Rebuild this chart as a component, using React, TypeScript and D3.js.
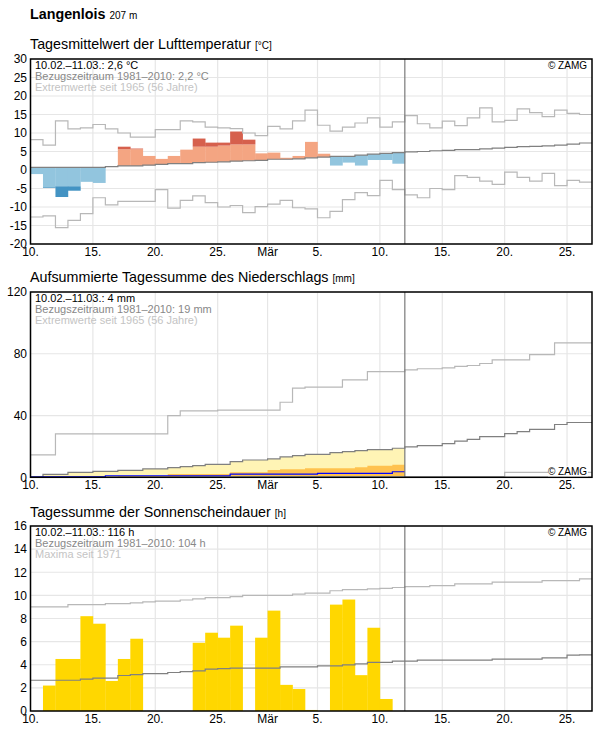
import React from "react";
import * as d3 from "d3";

const W = 596;
const H = 729;
const FONT = "'Liberation Sans', Arial, sans-serif";

// day index 0 = 10 Feb, 45 = 27 Mar; observed period = first 30 days (10.02.–11.03.)
const dayCount = 45;
const obsDays = 30;
const xTickDays = [0, 5, 10, 15, 19, 23, 28, 33, 38, 43];
const xTickLabels = ["10.", "15.", "20.", "25.", "Mär", "5.", "10.", "15.", "20.", "25."];

// Temperature (°C)
const tempObs = [-1.1, -4.8, -7.3, -5.6, -3.2, -3.5, 1.0, 6.3, 5.8, 3.8, 3.0, 3.8, 5.5, 8.5, 7.4, 7.4, 10.4, 8.2, 4.5, 4.7, 3.3, 3.8, 7.6, 4.4, 1.2, 2.0, 1.2, 2.7, 2.7, 1.7];
const tempMean = [0.7, 0.7, 0.7, 0.7, 0.7, 0.7, 0.9, 1.1, 1.1, 1.3, 1.5, 1.7, 1.7, 2.0, 2.1, 2.2, 2.4, 2.5, 2.6, 2.9, 2.9, 3.0, 3.3, 3.5, 3.7, 3.7, 4.0, 4.3, 4.5, 4.7, 4.9, 5.0, 5.2, 5.3, 5.5, 5.5, 5.7, 5.9, 6.1, 6.3, 6.4, 6.5, 6.7, 7.0, 7.3];
const tempUpper = [5.2, 5.2, 5.2, 5.2, 5.3, 5.4, 5.5, 5.6, 5.6, 5.8, 5.9, 6.0, 6.1, 6.3, 6.3, 6.6, 6.9, 6.9, 7.0, 7.1, 7.2, 7.3, 7.8, 7.9, 8.0, 8.2, 8.4, 8.6, 8.8, 9.0];
const tempLower = [-4.6, -4.6, -4.4, -4.4, -4.3, -4.3, -4.2, -4.0, -3.9, -3.8, -3.6, -3.4, -3.3, -3.1, -3.0, -2.8, -2.6, -2.5, -2.3, -2.1, -2.0, -1.8, -1.6, -1.4, -1.3, -1.1, -0.9, -0.7, -0.6, -0.4];
const tempMax = [8.2, 6.7, 13.3, 11.1, 11.4, 12.3, 11.1, 10.0, 8.9, 8.9, 10.9, 10.9, 13.3, 13.0, 11.6, 11.4, 11.2, 10.0, 9.3, 11.8, 11.1, 13.3, 16.2, 12.1, 10.5, 11.6, 12.7, 14.1, 11.6, 13.0, 14.7, 12.5, 11.4, 13.2, 12.0, 14.1, 16.8, 13.0, 13.4, 16.5, 15.5, 14.4, 16.2, 15.3, 15.0];
const tempMin = [-12.7, -12.4, -15.6, -13.6, -11.8, -7.5, -9.4, -8.5, -8.5, -8.5, -5.3, -10.3, -8.2, -7.0, -8.8, -10.0, -9.6, -11.5, -9.9, -9.2, -8.2, -10.2, -10.5, -12.9, -11.2, -8.0, -6.1, -6.9, -2.8, -5.3, -6.7, -7.5, -5.0, -5.3, -1.5, -2.0, -3.0, -3.9, -0.6, -2.0, -3.0, -0.9, -4.2, -2.8, -3.3];

// Precipitation, cumulative (mm)
const precipObs = [0.1, 0.3, 0.3, 0.3, 0.3, 0.3, 1.0, 1.0, 1.0, 1.0, 1.0, 1.0, 1.0, 1.0, 1.0, 1.0, 2.1, 2.1, 2.1, 2.1, 2.1, 2.1, 2.1, 2.6, 2.6, 2.6, 2.6, 2.6, 2.6, 3.6];
const precipLow = [0, 0, 0, 0, 0.4, 0.4, 0.4, 0.8, 0.8, 0.8, 0.8, 2.2, 2.2, 2.2, 2.2, 2.2, 3.2, 3.2, 3.2, 4.8, 5.2, 5.2, 5.8, 5.8, 5.8, 5.8, 6.5, 7.4, 7.4, 8.2];
const precipMean = [0.4, 1.9, 1.9, 3.2, 3.2, 3.9, 3.9, 4.5, 4.5, 5.4, 5.4, 6.3, 6.9, 7.6, 8.4, 8.4, 10.2, 11.2, 11.2, 11.9, 13.2, 14.1, 14.9, 14.9, 16.0, 16.6, 17.3, 17.9, 17.9, 18.8, 19.7, 20.5, 20.5, 21.8, 23.4, 24.6, 26.4, 26.4, 28.3, 29.6, 31.1, 31.1, 34.2, 35.5, 35.5];
const precipMax = [14.5, 14.5, 28.1, 28.1, 28.1, 28.1, 28.1, 28.1, 28.1, 28.1, 28.1, 40.0, 43.0, 43.0, 43.0, 43.5, 43.5, 43.5, 43.5, 43.5, 48.6, 57.7, 58.4, 58.4, 58.4, 63.1, 63.1, 68.5, 68.5, 68.5, 69.6, 70.3, 70.3, 70.9, 71.8, 72.4, 73.7, 76.1, 76.1, 76.1, 79.4, 79.4, 87.1, 87.1, 87.1];
const precipMin = [0, 0, 0, 0, 0, 0, 0, 0, 0, 0, 0, 0, 0.5, 0.5, 0.5, 0.5, 0.5, 0.5, 0.5, 0.5, 0.5, 0.5, 0.5, 0.5, 0.5, 0.5, 0.5, 0.5, 0.5, 0.5, 0.5, 0.5, 0.5, 0.5, 0.5, 0.5, 0.5, 0.5, 3.2, 3.2, 3.2, 3.2, 3.2, 3.2, 3.2];

// Sunshine duration (h)
const sunObs = [0, 2.2, 4.5, 4.5, 8.2, 7.55, 2.6, 4.5, 6.25, 0, 0, 0, 0, 5.9, 6.77, 6.34, 7.38, 0, 6.34, 8.68, 2.26, 1.9, 0.09, 0, 9.2, 9.64, 3.1, 7.2, 1.04, 0];
const sunMean = [2.66, 2.66, 2.66, 2.66, 2.75, 2.84, 2.84, 3.07, 3.15, 3.24, 3.24, 3.33, 3.41, 3.47, 3.62, 3.67, 3.7, 3.7, 3.7, 3.7, 3.82, 3.82, 3.82, 3.9, 3.9, 3.99, 4.08, 4.2, 4.2, 4.31, 4.31, 4.4, 4.4, 4.4, 4.4, 4.4, 4.4, 4.48, 4.48, 4.48, 4.48, 4.6, 4.6, 4.83, 4.86];
const sunMax = [9.0, 9.0, 9.0, 9.2, 9.2, 9.2, 9.29, 9.29, 9.35, 9.43, 9.5, 9.5, 9.6, 9.7, 9.8, 9.8, 9.9, 10.0, 10.0, 10.0, 10.0, 10.1, 10.19, 10.19, 10.4, 10.5, 10.5, 10.56, 10.6, 10.68, 10.76, 10.76, 10.85, 10.85, 11.0, 11.0, 11.0, 11.14, 11.14, 11.14, 11.14, 11.28, 11.28, 11.28, 11.43];

const tempTicks = [-20, -15, -10, -5, 0, 5, 10, 15, 20, 25, 30];
const precipTicks = [0, 40, 80, 120];
const sunTicks = [0, 2, 4, 6, 8, 10, 12, 14, 16];

const x = d3.scaleLinear().domain([0, dayCount]).range([30.5, 592]);

const stepPath = (vals: number[], y: d3.ScaleLinear<number, number>) => {
  const pts: [number, number][] = vals.map((v, i) => [i, v]);
  pts.push([vals.length, vals[vals.length - 1]]);
  return d3
    .line<[number, number]>()
    .x((d) => x(d[0]))
    .y((d) => y(d[1]))
    .curve(d3.curveStepAfter)(pts) as string;
};

const stepArea = (vals: number[], y: d3.ScaleLinear<number, number>) => {
  const pts: [number, number][] = vals.map((v, i) => [i, v]);
  pts.push([vals.length, vals[vals.length - 1]]);
  return d3
    .area<[number, number]>()
    .x((d) => x(d[0]))
    .y0(y(0))
    .y1((d) => y(d[1]))
    .curve(d3.curveStepAfter)(pts) as string;
};

interface PanelProps {
  top: number;
  bottom: number;
  domain: [number, number];
  ticks: number[];
  title: string;
  unit: string;
  titleY: number;
  legend: string[];
  zamgBottom?: boolean;
  children: (y: d3.ScaleLinear<number, number>) => React.ReactNode;
}

const Panel = ({ top, bottom, domain, ticks, title, unit, titleY, legend, zamgBottom, children }: PanelProps) => {
  const y = d3.scaleLinear().domain(domain).range([bottom, top]);
  const left = x(0);
  const right = x(dayCount);
  const legendColors = ["#000", "#888", "#c4c4c4"];
  return (
    <g>
      <text x={30} y={titleY} fontSize={14.3} fill="#000">
        {title}
        <tspan fontSize={10} dx={4}>{unit}</tspan>
      </text>
      {ticks.map((t) => (
        <line key={"gy" + t} x1={left} x2={right} y1={y(t)} y2={y(t)} stroke="#e6e6e6" strokeWidth={1.2} />
      ))}
      {xTickDays.map((d) => (
        <line key={"gx" + d} x1={x(d)} x2={x(d)} y1={top} y2={bottom} stroke="#e6e6e6" strokeWidth={1.2} />
      ))}
      {children(y)}
      <line x1={x(obsDays)} x2={x(obsDays)} y1={top} y2={bottom} stroke="#7a7a7a" strokeWidth={1.2} />
      <rect x={left} y={top} width={right - left} height={bottom - top} fill="none" stroke="#000" strokeWidth={1.5} />
      {ticks.map((t) => (
        <text key={"ty" + t} x={27} y={y(t)} dy="0.36em" textAnchor="end" fontSize={12} fill="#000">
          {t}
        </text>
      ))}
      {xTickDays.map((d, i) => (
        <text key={"tx" + d} x={x(d)} y={bottom + 11.5} textAnchor="middle" fontSize={12} fill="#000">
          {xTickLabels[i]}
        </text>
      ))}
      {legend.map((l, i) => (
        <text key={"lg" + i} x={35} y={top + 10 + i * 11} fontSize={11} fill={legendColors[i]}>
          {l}
        </text>
      ))}
      {zamgBottom ? (
        <g>
          <rect x={548} y={bottom - 11} width={40} height={10} fill="#fff" />
          <text x={587} y={bottom - 2.5} textAnchor="end" fontSize={10} fill="#000">© ZAMG</text>
        </g>
      ) : (
        <text x={587} y={top + 10} textAnchor="end" fontSize={10} fill="#000">© ZAMG</text>
      )}
    </g>
  );
};

const App = () => {
  return (
    <svg width={W} height={H} style={{ position: "absolute", left: 0, top: 0, fontFamily: FONT }}>
      <rect width={W} height={H} fill="#fff" />
      <text x={30} y={18.5} fontSize={14.3} fontWeight="bold" fill="#000">
        Langenlois
        <tspan fontSize={10} fontWeight="normal" dx={4}>207 m</tspan>
      </text>

      <Panel
        top={59}
        bottom={244}
        domain={[-20, 30]}
        ticks={tempTicks}
        title="Tagesmittelwert der Lufttemperatur"
        unit="[°C]"
        titleY={48.5}
        legend={["10.02.–11.03.: 2,6 °C", "Bezugszeitraum 1981–2010: 2,2 °C", "Extremwerte seit 1965 (56 Jahre)"]}
      >
        {(y) => (
          <g>
            {tempObs.map((o, i) => {
              const m = tempMean[i];
              const x0 = x(i);
              const w = x(i + 1) - x(i) + 0.3;
              const rects: React.ReactNode[] = [];
              if (o >= m) {
                const lt = Math.min(o, tempUpper[i]);
                rects.push(<rect key="l" x={x0} y={y(lt)} width={w} height={y(m) - y(lt)} fill="#f4a582" />);
                if (o > tempUpper[i])
                  rects.push(<rect key="d" x={x0} y={y(o)} width={w} height={y(tempUpper[i]) - y(o)} fill="#d6604d" />);
              } else {
                const lb = Math.max(o, tempLower[i]);
                rects.push(<rect key="l" x={x0} y={y(m)} width={w} height={y(lb) - y(m)} fill="#92c5de" />);
                if (o < tempLower[i])
                  rects.push(<rect key="d" x={x0} y={y(tempLower[i])} width={w} height={y(o) - y(tempLower[i])} fill="#4393c3" />);
              }
              return <g key={i}>{rects}</g>;
            })}
            <path d={stepPath(tempMax, y)} fill="none" stroke="#b8b8b8" strokeWidth={1.2} />
            <path d={stepPath(tempMin, y)} fill="none" stroke="#b8b8b8" strokeWidth={1.2} />
            <path d={stepPath(tempMean, y)} fill="none" stroke="#808080" strokeWidth={1.2} />
          </g>
        )}
      </Panel>

      <Panel
        top={292}
        bottom={477.3}
        domain={[0, 120]}
        ticks={precipTicks}
        title="Aufsummierte Tagessumme des Niederschlags"
        unit="[mm]"
        titleY={281.7}
        legend={["10.02.–11.03.: 4 mm", "Bezugszeitraum 1981–2010: 19 mm", "Extremwerte seit 1965 (56 Jahre)"]}
        zamgBottom
      >
        {(y) => (
          <g>
            <path d={stepArea(precipMean.slice(0, obsDays), y)} fill="#fff4b5" />
            <path d={stepArea(precipLow, y)} fill="#ffc24f" />
            <path d={stepPath(precipMax, y)} fill="none" stroke="#b8b8b8" strokeWidth={1.2} />
            <path d={stepPath(precipMin, y)} fill="none" stroke="#b8b8b8" strokeWidth={1.2} />
            <path d={stepPath(precipMean, y)} fill="none" stroke="#808080" strokeWidth={1.2} />
            <path d={stepPath(precipObs, y)} fill="none" stroke="#0000ff" strokeWidth={1.2} />
          </g>
        )}
      </Panel>

      <Panel
        top={526}
        bottom={711}
        domain={[0, 16]}
        ticks={sunTicks}
        title="Tagessumme der Sonnenscheindauer"
        unit="[h]"
        titleY={516.5}
        legend={["10.02.–11.03.: 116 h", "Bezugszeitraum 1981–2010: 104 h", "Maxima seit 1971"]}
      >
        {(y) => (
          <g>
            {sunObs.map((v, i) =>
              v > 0 ? (
                <rect key={i} x={x(i)} y={y(v)} width={x(i + 1) - x(i) + 0.3} height={y(0) - y(v)} fill="#ffd700" />
              ) : null
            )}
            <path d={stepPath(sunMax, y)} fill="none" stroke="#b8b8b8" strokeWidth={1.2} />
            <path d={stepPath(sunMean, y)} fill="none" stroke="#808080" strokeWidth={1.2} />
          </g>
        )}
      </Panel>
    </svg>
  );
};

export default App;
